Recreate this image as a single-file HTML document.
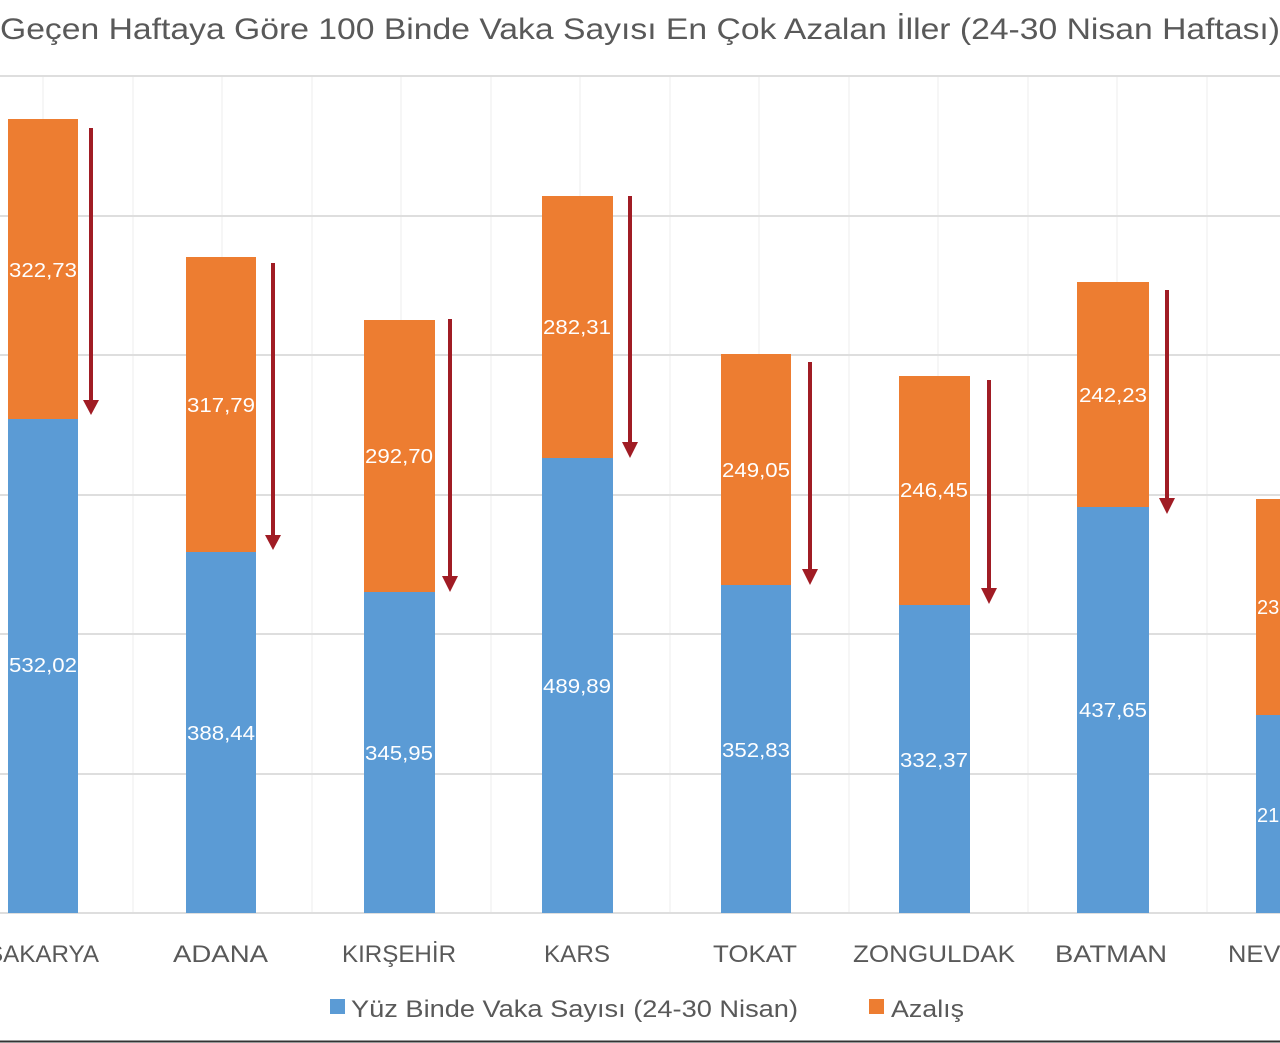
<!DOCTYPE html>
<html><head><meta charset="utf-8"><style>
html,body{margin:0;padding:0;background:#fff}
svg{display:block}
text{font-family:"Liberation Sans",sans-serif}
</style></head><body>
<svg width="1280" height="1043" viewBox="0 0 1280 1043">
<rect width="1280" height="1043" fill="#fff"/>
<text x="0" y="39" font-size="30" fill="#595959" textLength="1280" lengthAdjust="spacingAndGlyphs">Geçen Haftaya Göre 100 Binde Vaka Sayısı En Çok Azalan İller (24-30 Nisan Haftası)</text>
<g stroke="#f3f3f3" stroke-width="1.5">
<line x1="43" y1="76" x2="43" y2="913"/><line x1="133" y1="76" x2="133" y2="913"/><line x1="222" y1="76" x2="222" y2="913"/><line x1="312" y1="76" x2="312" y2="913"/><line x1="401" y1="76" x2="401" y2="913"/><line x1="491" y1="76" x2="491" y2="913"/><line x1="580" y1="76" x2="580" y2="913"/><line x1="670" y1="76" x2="670" y2="913"/><line x1="759" y1="76" x2="759" y2="913"/><line x1="849" y1="76" x2="849" y2="913"/><line x1="938" y1="76" x2="938" y2="913"/><line x1="1028" y1="76" x2="1028" y2="913"/><line x1="1117" y1="76" x2="1117" y2="913"/><line x1="1207" y1="76" x2="1207" y2="913"/>
</g>
<g stroke="#dedede" stroke-width="2">
<line x1="0" y1="76" x2="1280" y2="76"/><line x1="0" y1="216" x2="1280" y2="216"/><line x1="0" y1="355" x2="1280" y2="355"/><line x1="0" y1="495" x2="1280" y2="495"/><line x1="0" y1="634" x2="1280" y2="634"/><line x1="0" y1="774" x2="1280" y2="774"/><line x1="0" y1="913" x2="1280" y2="913"/>
</g>
<g>
<rect x="8" y="119" width="70" height="300" fill="#ed7d31"/><rect x="8" y="419" width="70" height="494" fill="#5b9bd5"/>
<rect x="186" y="257" width="70" height="295" fill="#ed7d31"/><rect x="186" y="552" width="70" height="361" fill="#5b9bd5"/>
<rect x="364" y="320" width="71" height="272" fill="#ed7d31"/><rect x="364" y="592" width="71" height="321" fill="#5b9bd5"/>
<rect x="542" y="196" width="71" height="262" fill="#ed7d31"/><rect x="542" y="458" width="71" height="455" fill="#5b9bd5"/>
<rect x="721" y="354" width="70" height="231" fill="#ed7d31"/><rect x="721" y="585" width="70" height="328" fill="#5b9bd5"/>
<rect x="899" y="376" width="71" height="229" fill="#ed7d31"/><rect x="899" y="605" width="71" height="308" fill="#5b9bd5"/>
<rect x="1077" y="282" width="72" height="225" fill="#ed7d31"/><rect x="1077" y="507" width="72" height="406" fill="#5b9bd5"/>
<rect x="1256" y="499" width="30" height="216" fill="#ed7d31"/><rect x="1256" y="715" width="30" height="198" fill="#5b9bd5"/>
</g>
<g stroke="#a01c24" stroke-width="4">
<line x1="91" y1="128" x2="91" y2="402"/><line x1="273" y1="263" x2="273" y2="537"/><line x1="450" y1="319" x2="450" y2="578"/><line x1="630" y1="196" x2="630" y2="444"/><line x1="810" y1="362" x2="810" y2="571"/><line x1="989" y1="380" x2="989" y2="590"/><line x1="1167" y1="290" x2="1167" y2="500"/>
</g>
<g fill="#a01c24">
<polygon points="83,400 99,400 91,415"/><polygon points="265,535 281,535 273,550"/><polygon points="442,576 458,576 450,592"/><polygon points="622,442 638,442 630,458"/><polygon points="802,569 818,569 810,585"/><polygon points="981,588 997,588 989,604"/><polygon points="1159,498 1175,498 1167,514"/>
</g>
<g fill="#fff" font-size="20" text-anchor="middle">
<text x="43" y="277" textLength="68" lengthAdjust="spacingAndGlyphs">322,73</text><text x="43" y="672" textLength="68" lengthAdjust="spacingAndGlyphs">532,02</text>
<text x="221" y="412" textLength="68" lengthAdjust="spacingAndGlyphs">317,79</text><text x="221" y="740" textLength="68" lengthAdjust="spacingAndGlyphs">388,44</text>
<text x="399" y="463" textLength="68" lengthAdjust="spacingAndGlyphs">292,70</text><text x="399" y="760" textLength="68" lengthAdjust="spacingAndGlyphs">345,95</text>
<text x="577" y="334" textLength="68" lengthAdjust="spacingAndGlyphs">282,31</text><text x="577" y="693" textLength="68" lengthAdjust="spacingAndGlyphs">489,89</text>
<text x="756" y="477" textLength="68" lengthAdjust="spacingAndGlyphs">249,05</text><text x="756" y="757" textLength="68" lengthAdjust="spacingAndGlyphs">352,83</text>
<text x="934" y="497" textLength="68" lengthAdjust="spacingAndGlyphs">246,45</text><text x="934" y="767" textLength="68" lengthAdjust="spacingAndGlyphs">332,37</text>
<text x="1113" y="402" textLength="68" lengthAdjust="spacingAndGlyphs">242,23</text><text x="1113" y="717" textLength="68" lengthAdjust="spacingAndGlyphs">437,65</text>
<text x="1257" y="614" text-anchor="start">236,19</text><text x="1257" y="822" text-anchor="start">213,41</text>
</g>
<g fill="#595959" font-size="24">
<text x="-13" y="962" textLength="112" lengthAdjust="spacingAndGlyphs">SAKARYA</text>
<text x="173" y="962" textLength="95" lengthAdjust="spacingAndGlyphs">ADANA</text>
<text x="342" y="962" textLength="114" lengthAdjust="spacingAndGlyphs">KIRŞEHİR</text>
<text x="544" y="962" textLength="66" lengthAdjust="spacingAndGlyphs">KARS</text>
<text x="713" y="962" textLength="84" lengthAdjust="spacingAndGlyphs">TOKAT</text>
<text x="853" y="962" textLength="162" lengthAdjust="spacingAndGlyphs">ZONGULDAK</text>
<text x="1055" y="962" textLength="112" lengthAdjust="spacingAndGlyphs">BATMAN</text>
<text x="1228" y="962" textLength="130" lengthAdjust="spacingAndGlyphs">NEVŞEHİR</text>
</g>
<rect x="330" y="999" width="15" height="15" fill="#5b9bd5"/>
<text x="351" y="1017" font-size="24" fill="#595959" textLength="447" lengthAdjust="spacingAndGlyphs">Yüz Binde Vaka Sayısı (24-30 Nisan)</text>
<rect x="869" y="999" width="15" height="15" fill="#ed7d31"/>
<text x="891" y="1017" font-size="24" fill="#595959" textLength="73" lengthAdjust="spacingAndGlyphs">Azalış</text>
<line x1="0" y1="1041.5" x2="1280" y2="1041.5" stroke="#333" stroke-width="2"/>
</svg>
</body></html>
